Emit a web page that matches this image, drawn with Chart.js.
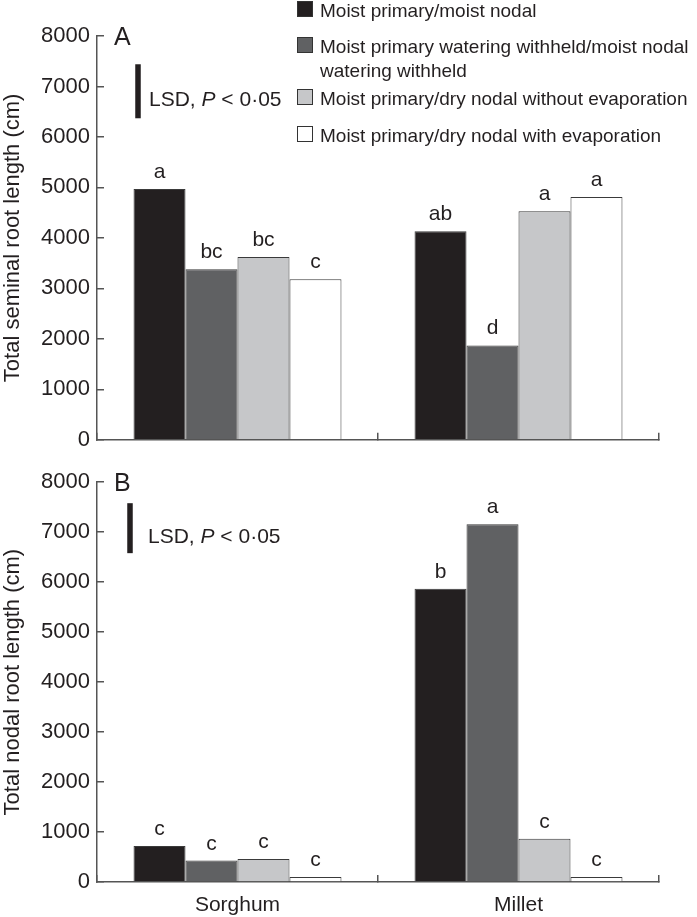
<!DOCTYPE html>
<html><head><meta charset="utf-8">
<script src="https://cdn.jsdelivr.net/npm/chart.js@4.4.1/dist/chart.umd.min.js"></script>
<style>
html,body{margin:0;padding:0;background:#fff;width:697px;height:917px;overflow:hidden}
canvas{position:absolute;left:0}
</style></head><body>
<canvas id="cB" width="697" height="462" style="top:455px"></canvas>
<canvas id="cA" width="697" height="467" style="top:0"></canvas>
<script>
// ---- data ----
const categories = ['Sorghum', 'Millet'];
const seriesNames = [
  'Moist primary/moist nodal',
  'Moist primary watering withheld/moist nodal\nwatering withheld',
  'Moist primary/dry nodal without evaporation',
  'Moist primary/dry nodal with evaporation'
];
const seriesColors = ['#231f20', '#606163', '#c6c7c9', '#ffffff'];

// Panel A: total seminal root length (cm)
const seminalMoistMoist = [4970, 4130];
const seminalWithheld = [3380, 1870];
const seminalDryNoEvap = [3620, 4530];
const seminalDryEvap = [3180, 4810];
const seminalLetters = [['a', 'ab'], ['bc', 'd'], ['bc', 'a'], ['c', 'a']];
const seminalLSD = [6370, 7440];

// Panel B: total nodal root length (cm)
const nodalMoistMoist = [720, 5870];
const nodalWithheld = [430, 7160];
const nodalDryNoEvap = [460, 865];
const nodalDryEvap = [100, 100];
const nodalLetters = [['c', 'b'], ['c', 'a'], ['c', 'c'], ['c', 'c']];
const nodalLSD = [6580, 7580];

const yTickValues = [0, 1000, 2000, 3000, 4000, 5000, 6000, 7000, 8000];
const lsdText = ['LSD, ', 'P', ' < 0·05'];

// ---- style ----
const FONT = 'Liberation Sans, Arial, Helvetica, sans-serif';
const TXT = '#231f20';
const AXIS = '#555555';

function annotPlugin(cfg) {
  return {
    id: 'annot' + cfg.panel,
    afterDraw(chart) {
      const ctx = chart.ctx, ca = chart.chartArea, ys = chart.scales.y;
      ctx.save();
      ctx.fillStyle = TXT;
      // significance letters
      ctx.font = '21px ' + FONT;
      ctx.textAlign = 'center';
      ctx.textBaseline = 'alphabetic';
      chart.data.datasets.forEach((ds, i) => {
        const meta = chart.getDatasetMeta(i);
        meta.data.forEach((el, j) => {
          ctx.fillText(cfg.letters[i][j], el.x, el.y - 11);
        });
      });
      // panel label
      ctx.textAlign = 'left';
      ctx.font = '25px ' + FONT;
      ctx.fillText(cfg.panel, ca.left + 17, ca.top + 9);
      // LSD bar
      const yTop = ys.getPixelForValue(cfg.lsd[1]);
      const yBot = ys.getPixelForValue(cfg.lsd[0]);
      const lx = ca.left + cfg.lsdDx;
      ctx.fillStyle = TXT;
      ctx.fillRect(lx - 2.75, yTop, 5.5, yBot - yTop);
      let tx = lx + cfg.lsdTextDx;
      const ty = (yTop + yBot) / 2 + 15;
      ctx.font = '21px ' + FONT;
      ctx.fillText(lsdText[0], tx, ty); tx += ctx.measureText(lsdText[0]).width;
      ctx.font = 'italic 21px ' + FONT;
      ctx.fillText(lsdText[1], tx, ty); tx += ctx.measureText(lsdText[1]).width;
      ctx.font = '21px ' + FONT;
      ctx.fillText(lsdText[2], tx, ty);
      // legend
      if (cfg.legend) {
        ctx.font = '19px ' + FONT;
        const lx0 = 297, size = 16;
        const baselines = [17, 53, 105, 142];
        seriesNames.forEach((name, i) => {
          const b = baselines[i];
          ctx.fillStyle = seriesColors[i];
          ctx.fillRect(lx0, b - size, size, size);
          ctx.strokeStyle = '#333';
          ctx.lineWidth = 1;
          ctx.strokeRect(lx0 + 0.5, b - size + 0.5, size - 1, size - 1);
          ctx.fillStyle = TXT;
          name.split('\n').forEach((line, k) => {
            ctx.fillText(line, lx0 + 23, b + k * 24);
          });
        });
      }
      ctx.restore();
    }
  };
}

function buildChart(id, series, cfg) {
  return new Chart(document.getElementById(id), {
    type: 'bar',
    data: {
      labels: categories,
      datasets: series.map((d, i) => ({
        label: seriesNames[i],
        data: d,
        backgroundColor: seriesColors[i],
        borderColor: '#3a3a3a',
        borderWidth: 1,
        borderSkipped: 'bottom',
        categoryPercentage: 0.74,
        barPercentage: 1
      }))
    },
    options: {
      responsive: false,
      animation: false,
      devicePixelRatio: 1,
      layout: { padding: { top: cfg.padTop, left: 0, right: 38, bottom: 0 } },
      plugins: { legend: { display: false }, tooltip: { enabled: false } },
      scales: {
        x: {
          grid: { offset: true, drawOnChartArea: false, tickLength: -7, color: AXIS, lineWidth: 1.5 },
          border: { color: AXIS, width: 1.5 },
          ticks: { display: cfg.showX, color: TXT, font: { family: FONT, size: 21 }, padding: 18 },
          afterFit: s => { s.height = cfg.xH; }
        },
        y: {
          min: 0, max: 8000,
          afterBuildTicks: s => { s.ticks = yTickValues.map(v => ({ value: v })); },
          ticks: { color: TXT, font: { family: FONT, size: 22 }, padding: 14, callback: v => String(v) },
          grid: { drawOnChartArea: false, tickLength: -7, color: AXIS, lineWidth: 1.5 },
          border: { color: AXIS, width: 1.5 },
          title: { display: true, text: cfg.yTitle, color: TXT, font: { family: FONT, size: 22, lineHeight: 1.2 }, padding: 0 },
          afterFit: s => { s.width = 97; }
        }
      }
    },
    plugins: [annotPlugin(cfg)]
  });
}

buildChart('cA', [seminalMoistMoist, seminalWithheld, seminalDryNoEvap, seminalDryEvap], {
  panel: 'A', padTop: 36, xH: 3, showX: false, legend: true,
  letters: seminalLetters, lsd: seminalLSD, lsdDx: 41, lsdTextDx: 11,
  yTitle: 'Total seminal root length (cm)'
});
buildChart('cB', [nodalMoistMoist, nodalWithheld, nodalDryNoEvap, nodalDryEvap], {
  panel: 'B', padTop: 27, xH: 35, showX: true, legend: false,
  letters: nodalLetters, lsd: nodalLSD, lsdDx: 33, lsdTextDx: 18,
  yTitle: 'Total nodal root length (cm)'
});
</script>
</body></html>
